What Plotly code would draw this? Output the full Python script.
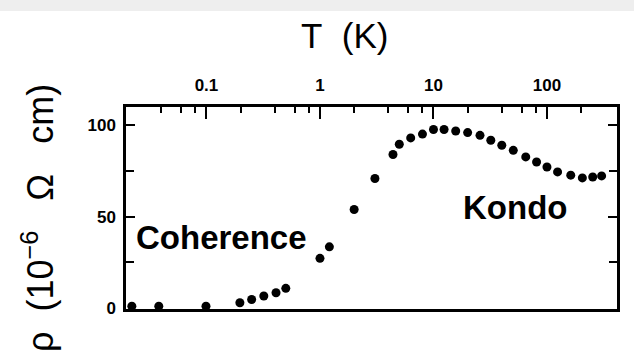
import numpy as np
import plotly.graph_objects as go

# Resistivity vs temperature (log T axis on top)
T_K = [0.022, 0.038, 0.099, 0.197, 0.25, 0.32, 0.41, 0.50,
       1.0, 1.21, 2.0, 3.05, 4.4, 5.0, 6.3, 8.0, 10.0, 12.4, 15.7, 20.0,
       25.7, 32.0, 40.0, 50.5, 65.0, 81.0, 100.0, 124.0, 162.0, 205.0, 253.0, 303.0]
rho = [1.0, 1.0, 1.0, 2.9, 4.7, 6.6, 8.4, 10.8,
       27.2, 33.5, 53.9, 70.9, 84.0, 89.6, 93.1, 95.2, 97.7, 97.7, 96.9, 96.0,
       94.5, 91.8, 89.1, 86.3, 82.7, 79.9, 77.2, 74.5, 72.7, 71.2, 71.7, 72.3]

x_tickvals = [0.1, 1, 10, 100]
x_ticktext = ["0.1", "1", "10", "100"]
x_minor = [0.04, 0.06, 0.08, 0.2, 0.4, 0.6, 0.8, 2, 4, 6, 8, 20, 40, 60, 80, 200]
y_tickvals = [0, 50, 100]
y_ticktext = ["0", "50", "100"]
y_minor = [25, 75]

FONT = "Liberation Sans, Arial, sans-serif"

fig = go.Figure()
fig.add_trace(go.Scatter(
    x=T_K, y=rho, mode="markers",
    marker=dict(size=9, color="black", line=dict(width=0)),
    showlegend=False, cliponaxis=False,
))

fig.update_layout(
    width=634, height=364,
    margin=dict(l=126, r=17, t=107, b=55),
    paper_bgcolor="white", plot_bgcolor="white",
    font=dict(family=FONT, color="black"),
    xaxis=dict(
        type="log", side="top", range=[-1.709, 2.617],
        tickvals=x_tickvals, ticktext=x_ticktext,
        ticks="inside", ticklen=12, tickwidth=2, tickcolor="black",
        minor=dict(tickvals=x_minor, ticks="inside", ticklen=6,
                   tickwidth=2, tickcolor="black"),
        tickfont=dict(family=FONT, size=17, color="black", weight="bold"),
        ticklabelstandoff=6,
        showline=True, linecolor="black", linewidth=2.5, mirror=True,
        showgrid=False, zeroline=False,
    ),
    yaxis=dict(
        range=[-0.5, 110],
        tickvals=y_tickvals, ticktext=y_ticktext,
        ticks="inside", ticklen=9, tickwidth=2, tickcolor="black",
        minor=dict(tickvals=y_minor, ticks="inside", ticklen=8,
                   tickwidth=2, tickcolor="black"),
        tickfont=dict(family=FONT, size=17, color="black", weight="bold"),
        ticklabelstandoff=4,
        showline=True, linecolor="black", linewidth=2.5, mirror="ticks",
        showgrid=False, zeroline=False,
    ),
)

# faint grey band along the top edge
fig.add_shape(type="rect", xref="paper", yref="paper",
              x0=-0.26, x1=1.04, y0=(309 - 11) / 202, y1=(309 + 2) / 202 + 0.2,
              fillcolor="#eeeeee", line=dict(width=0), layer="below")

fig.add_annotation(
    text="T\u00a0\u00a0(K)", xref="paper", yref="paper",
    x=(344 - 126) / 491, y=(309 - 36) / 202,
    xanchor="center", yanchor="middle", showarrow=False,
    font=dict(family=FONT, size=35, color="black"),
)
fig.add_annotation(
    text="ρ\u00a0\u00a0(10<sup>−6</sup>\u00a0\u00a0\u00a0Ω\u00a0\u00a0\u00a0cm)",
    xref="paper", yref="paper",
    x=(38 - 126) / 491, y=(309 - 218) / 202,
    xanchor="center", yanchor="middle", textangle=-90, showarrow=False,
    font=dict(family=FONT, size=36, color="black"),
)
fig.add_annotation(
    text="Coherence", x=np.log10(0.136), y=38.5,
    xanchor="center", yanchor="middle", showarrow=False,
    font=dict(family=FONT, size=33, color="black", weight="bold"),
)
fig.add_annotation(
    text="Kondo", x=np.log10(51.8), y=55.2,
    xanchor="center", yanchor="middle", showarrow=False,
    font=dict(family=FONT, size=33, color="black", weight="bold"),
)

fig.write_html("out.html")
